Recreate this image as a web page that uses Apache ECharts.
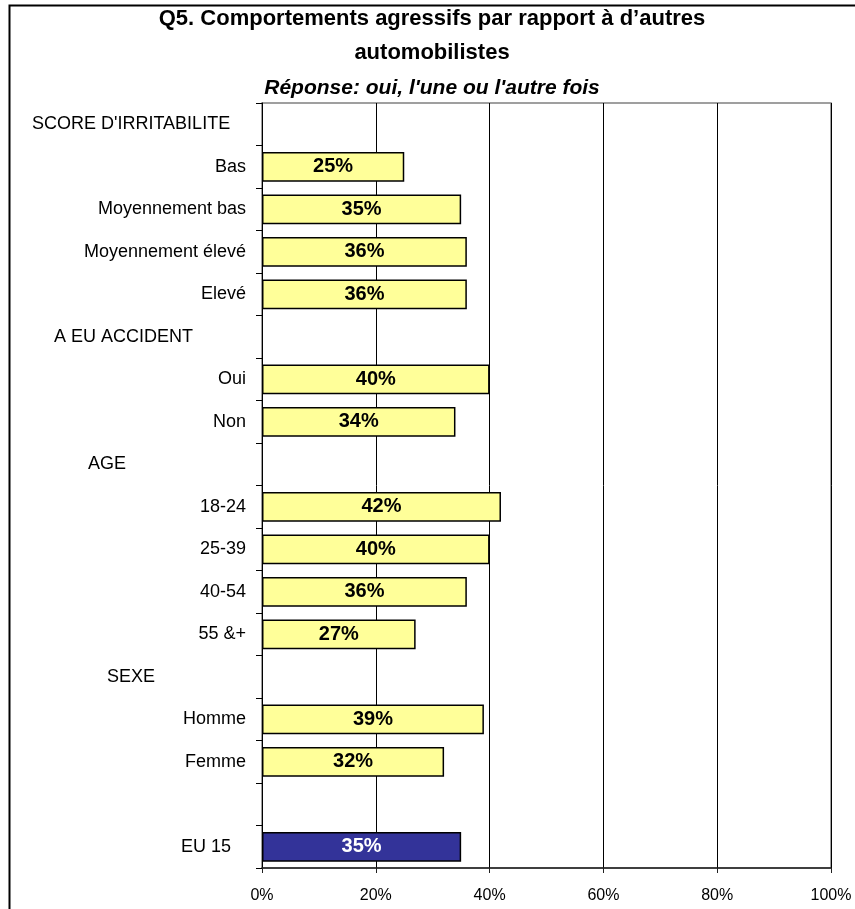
<!DOCTYPE html>
<html>
<head>
<meta charset="utf-8">
<script src="https://cdn.jsdelivr.net/npm/echarts@6/dist/echarts.min.js"></script>
<style>
  html, body { margin: 0; padding: 0; background: #ffffff; }
  #chart { width: 855px; height: 909px; }
</style>
</head>
<body>
<div id="chart"></div>
<script>
// rows from top to bottom; group headers and the spacer row carry no value
var categories = [
  "SCORE D'IRRITABILITE", 'Bas', 'Moyennement bas', 'Moyennement élevé', 'Elevé',
  'A EU ACCIDENT', 'Oui', 'Non',
  'AGE', '18-24', '25-39', '40-54', '55 &+',
  'SEXE', 'Homme', 'Femme',
  '', 'EU 15'
]
var values = [
  null, 25, 35, 36, 36,
  null, 40, 34,
  null, 42, 40, 36, 27,
  null, 39, 32,
  null, 35
]
var headers = ["SCORE D'IRRITABILITE", 'A EU ACCIDENT', 'AGE', 'SEXE']
var totalLabel = 'EU 15'
var xTicks = [0, 20, 40, 60, 80, 100]

// left indent (px) of each group header, as in the original sheet
var headerIndent = [32, 54, 88, 107]
var labelRight = 246

var font = 'Liberation Sans, Arial, sans-serif'

var rich = {
  e: { fontSize: 18, fontFamily: font, color: '#000', padding: [0, 15, 0, 0] }
}
headers.forEach(function (h, i) {
  rich['h' + i] = {
    fontSize: 18,
    fontFamily: font,
    color: '#000',
    width: labelRight - headerIndent[i],
    align: 'left'
  }
})

var barData = values.map(function (v, i) {
  if (v === null) return '-'
  if (categories[i] === totalLabel) {
    return {
      value: v,
      itemStyle: { color: '#333399' },
      label: { color: '#ffffff' }
    }
  }
  return v
})

var myChart = echarts.init(document.getElementById('chart'))
myChart.setOption({
  animation: false,
  backgroundColor: '#ffffff',
  title: {
    text: "Q5. Comportements agressifs par rapport à d’autres\nautomobilistes",
    subtext: "Réponse: oui, l'une ou l'autre fois",
    left: 432,
    textAlign: 'center',
    top: 2,
    padding: 0,
    itemGap: 6,
    textStyle: {
      fontFamily: font,
      fontSize: 22,
      fontWeight: 'bold',
      color: '#000',
      lineHeight: 34
    },
    subtextStyle: {
      fontFamily: font,
      fontSize: 21,
      fontWeight: 'bold',
      fontStyle: 'italic',
      color: '#000',
      lineHeight: 24
    }
  },
  graphic: [{
    type: 'rect',
    shape: { x: 9.5, y: 5.5, width: 900, height: 1000 },
    style: { fill: null, stroke: '#000', lineWidth: 2 },
    silent: true
  }],
  grid: {
    left: 262,
    right: 24,
    top: 103,
    bottom: 41,
    show: true,
    borderColor: '#808080',
    borderWidth: 1.5
  },
  xAxis: {
    type: 'value',
    min: 0,
    max: 100,
    interval: 20,
    axisLine: { show: true, lineStyle: { color: '#202020', width: 1.5 } },
    axisTick: { show: true, length: 5, lineStyle: { color: '#202020' } },
    splitLine: { show: true, lineStyle: { color: '#000', width: 1 } },
    axisLabel: {
      fontFamily: font,
      fontSize: 16,
      color: '#000',
      margin: 20,
      formatter: function (v) { return xTicks.indexOf(v) >= 0 ? v + '%' : '' }
    }
  },
  yAxis: {
    type: 'category',
    inverse: true,
    data: categories,
    axisLine: { show: true, lineStyle: { color: '#000', width: 1 } },
    axisTick: { show: true, length: 6, lineStyle: { color: '#000' } },
    axisLabel: {
      margin: 16,
      fontFamily: font,
      fontSize: 18,
      color: '#000',
      interval: 0,
      rich: rich,
      formatter: function (v) {
        var hi = headers.indexOf(v)
        if (hi >= 0) return '{h' + hi + '|' + v + '}'
        if (v === totalLabel) return '{e|' + v + '}'
        return v
      }
    }
  },
  series: [{
    type: 'bar',
    data: barData,
    barWidth: '70%',
    itemStyle: {
      color: '#FFFF99',
      borderColor: '#000',
      borderWidth: 1.5
    },
    label: {
      show: true,
      position: 'inside',
      fontFamily: font,
      fontSize: 20,
      fontWeight: 'bold',
      color: '#000',
      formatter: '{c}%'
    }
  }]
})
</script>
</body>
</html>
